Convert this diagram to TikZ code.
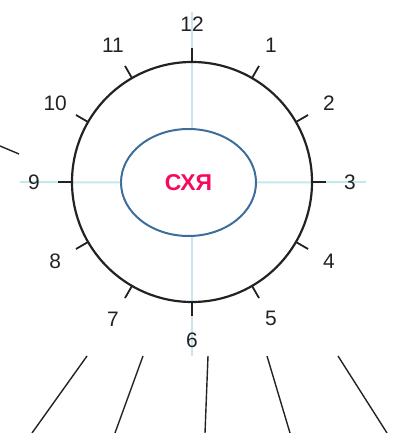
\documentclass[tikz,border=0pt]{standalone}
\usepackage{fontspec}
\setmainfont{Liberation Sans}
\usepackage{tikz}
\usetikzlibrary{calc,shapes.geometric}
\definecolor{rimblack}{HTML}{222222}
\definecolor{guidecyan}{HTML}{C4E8EE}
\definecolor{coreblue}{HTML}{3E6D9C}
\definecolor{markred}{HTML}{F50A5F}
\tikzset{
  rim/.style     = {draw=rimblack, line width=2.2pt},
  hourtick/.style = {draw=rimblack, line width=1.8pt},
  guide/.style   = {draw=guidecyan, line width=2pt},
  hourlbl/.style = {font=\fontsize{21}{21}\selectfont, text=rimblack, inner sep=0pt},
  core/.style    = {ellipse, draw=coreblue, line width=2pt, minimum width=135bp, minimum height=107bp,
                    inner sep=0pt, font=\fontsize{23}{23}\selectfont\bfseries, text=markred},
  ray/.style     = {draw=rimblack, line width=1.4pt},
}

\begin{document}
\begin{tikzpicture}[x=1bp, y=1bp]
  \useasboundingbox (0,0) rectangle (398,433);
  \coordinate (c) at (192,251);
  \node[core] (core) at (188.5,250.5) {СХЯ};

  % light guide cross
  \coordinate (gtop) at (192,421);
  \coordinate (gbot) at (192,77);
  \coordinate (gleft) at (20,251);
  \coordinate (gright) at (366,251);
  \draw[guide] (gtop) -- (c |- core.north);
  \draw[guide] (c |- core.south) -- (gbot);
  \draw[guide] (gleft) -- (core.west);
  \draw[guide] (core.east) -- (gright);

  % dial
  \draw[rim] (c) circle (120);
  \foreach \h in {1,...,12} {
    \draw[hourtick] ($(c)+({90-30*\h}:120)$) -- ($(c)+({90-30*\h}:134)$);
    \node[hourlbl] (h\h) at ($(c)+({90-30*\h}:158)$) {\h};
  }

  % stray strokes
  \coordinate (sa) at (0,287);
  \coordinate (sb) at (19,279);
  \draw[ray] (sa) -- (sb);
  \foreach \a/\b/\n in {87/32/1, 143/115/2, 208/205/3, 267/290/4, 338/387/5} {
    \coordinate (rt\n) at (\a,77);
    \coordinate (rb\n) at (\b,0);
    \draw[ray] (rt\n) -- (rb\n);
  }
\end{tikzpicture}
\end{document}
